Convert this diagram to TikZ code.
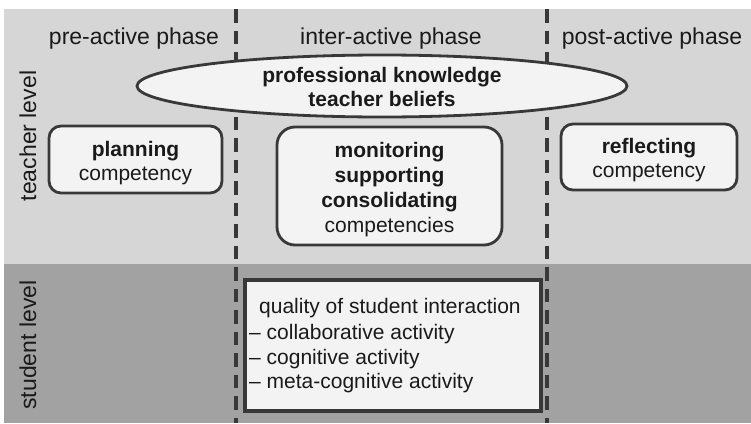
\documentclass[tikz,border=0pt]{standalone}
\usepackage{fontspec}
\setmainfont{Liberation Sans}
\usetikzlibrary{shapes.geometric}
\definecolor{topgray}{HTML}{D6D6D6}
\definecolor{botgray}{HTML}{A2A2A2}
\definecolor{boxfill}{HTML}{F3F3F3}
\definecolor{bd}{HTML}{383838}
\definecolor{txt}{HTML}{1A1A1A}
\begin{document}
\begin{tikzpicture}[x=1pt,y=-1pt,
  hdr/.style={font=\fontsize{23}{27}\selectfont, text=txt, anchor=base, inner sep=0pt},
  lbl/.style={font=\fontsize{21}{25}\selectfont, text=txt, anchor=base, inner sep=0pt},
  blbl/.style={lbl, font=\fontsize{21}{25}\selectfont\bfseries},
  rbox/.style={draw=bd, line width=2.8pt, fill=boxfill, rounded corners=12pt, inner sep=0pt},
  phaseline/.style={draw=bd, line width=3.2pt, dash pattern=on 13.5pt off 8pt}]
\useasboundingbox (0,0) rectangle (751,423);
\fill[topgray] (4,9) rectangle (751,264);
\fill[botgray] (4,264) rectangle (751,423);
% phase separators
\coordinate (d1t) at (236,9);
\coordinate (d1b) at (236,423);
\coordinate (d2t) at (547,9);
\coordinate (d2b) at (547,423);
\draw[phaseline] (d1t) -- (d1b);
\draw[phaseline] (d2t) -- (d2b);
% phase headers
\node[hdr] (pre) at (134,44) {pre-active phase};
\node[hdr] (inter) at (391,44) {inter-active phase};
\node[hdr] (post) at (652,44) {post-active phase};
% level labels
\node[hdr, rotate=90, anchor=center] (tl) at (28,136) {teacher level};
\node[hdr, rotate=90, anchor=center] (sl) at (28,345) {student level};
% ellipse
\node[ellipse, draw=bd, line width=2.8pt, fill=boxfill, minimum width=490pt, minimum height=62pt, inner sep=0pt] (kb) at (382,86) {};
\node[blbl] (kb1) at (382,82) {professional knowledge};
\node[blbl] (kb2) at (382,106) {teacher beliefs};
% planning
\node[rbox, minimum width=173pt, minimum height=67pt] (plan) at (135.5,159.5) {};
\node[blbl] (plan1) at (135.5,156) {planning};
\node[lbl] (plan2) at (135.5,180) {competency};
% monitoring
\node[rbox, rounded corners=18pt, minimum width=225pt, minimum height=118pt] (mon) at (389.5,186) {};
\node[blbl] (mon1) at (389.5,157) {monitoring};
\node[blbl] (mon2) at (389.5,182) {supporting};
\node[blbl] (mon3) at (389.5,207) {consolidating};
\node[lbl] (mon4) at (389.5,232) {competencies};
% reflecting
\node[rbox, minimum width=176pt, minimum height=66pt] (refl) at (649,157) {};
\node[blbl] (refl1) at (649,153) {reflecting};
\node[lbl] (refl2) at (649,177) {competency};
% student interaction
\node[draw=bd, line width=3.2pt, fill=boxfill, minimum width=296pt, minimum height=131pt, inner sep=0pt] (stu) at (393,345.5) {};
\node[lbl, anchor=base west] (stu1) at (259,313) {quality of student interaction};
\node[lbl, anchor=base west] (stu2) at (249,339) {-- collaborative activity};
\node[lbl, anchor=base west] (stu3) at (249,364) {-- cognitive activity};
\node[lbl, anchor=base west] (stu4) at (249,388) {-- meta-cognitive activity};
\end{tikzpicture}
\end{document}
